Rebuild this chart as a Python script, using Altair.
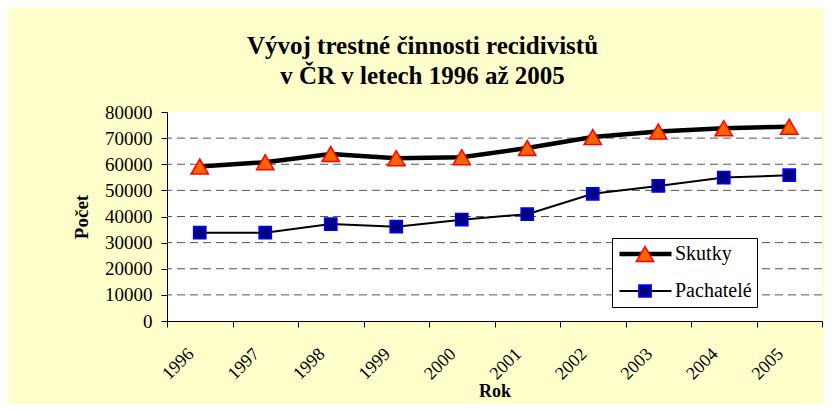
import altair as alt
import pandas as pd

years = ["1996", "1997", "1998", "1999", "2000", "2001", "2002", "2003", "2004", "2005"]
skutky = [59100, 60800, 63900, 62300, 62700, 66200, 70400, 72500, 73800, 74400]
pachatele = [33800, 33800, 37100, 36100, 38800, 40900, 48700, 51700, 54900, 55800]
series = ["Skutky", "Pachatelé"]
series_codes = ["A", "B"]
y_ticks = [0, 10000, 20000, 30000, 40000, 50000, 60000, 70000, 80000]
grid_values = [10000, 20000, 30000, 40000, 50000, 60000, 70000]

rows = []
for name, code, vals in zip(series, series_codes, [skutky, pachatele]):
    for yr, v in zip(years, vals):
        rows.append({"rok": yr, "pocet": v, "rada": name, "kod": code})
df = pd.DataFrame(rows)
grid_df = pd.DataFrame({"g": grid_values})

FONT = "Liberation Serif"

x_enc = alt.X(
    "rok:O",
    scale=alt.Scale(type="band", domain=years, paddingInner=0, paddingOuter=0),
    axis=alt.Axis(
        title="Rok", labelAngle=-45, labelAlign="right", labelBaseline="middle",
        tickBand="extent", tickSize=6, labelPadding=24, labelOffset=-9, labelFont=FONT,
        labelFontSize=18, labelColor="black", domainColor="black", tickColor="black",
        titleFont=FONT, titleFontSize=18, titleFontWeight="bold", titleColor="black",
        titlePadding=0, grid=False,
    ),
)
y_scale = alt.Scale(domain=[0, 80000], nice=False, zero=True)
y_axis = alt.Axis(
    title="Počet", values=y_ticks, format="d", tickSize=6, labelPadding=9,
    labelFont=FONT, labelFontSize=19, labelColor="black", domainColor="black",
    tickColor="black", titleFont=FONT, titleFontSize=19, titleFontWeight="bold",
    titleColor="black", titlePadding=13, grid=False,
)
y_enc = alt.Y("pocet:Q", scale=y_scale, axis=y_axis)

grid = alt.Chart(grid_df).mark_rule(color="#555555", strokeDash=[8, 5], strokeWidth=1).encode(
    y=alt.Y("g:Q", scale=y_scale, axis=y_axis)
)

LX, LY = 445, 126
legend_common = dict(
    orient="none", legendX=LX, legendY=LY, direction="vertical", padding=5,
    rowPadding=15, clipHeight=22, labelFont=FONT, labelFontSize=20, labelColor="black",
)

lines = alt.Chart(df).mark_line(color="black").encode(
    x=x_enc,
    y=y_enc,
    strokeWidth=alt.StrokeWidth(
        "rada:O",
        scale=alt.Scale(domain=series, range=[4.5, 2]),
        legend=alt.Legend(
            title=None, symbolType="stroke", symbolSize=2704, symbolStrokeColor="black",
            fillColor="white", strokeColor="black", labelOffset=1, **legend_common,
        ),
    ),
)

pt_legend = alt.Legend(
    title=None, labelOpacity=0, symbolOffset=18, labelOffset=1, symbolStrokeWidth=1.5,
    **legend_common,
)
points = alt.Chart(df).mark_point(filled=True, opacity=1, strokeWidth=1.5).encode(
    x=x_enc,
    y=y_enc,
    shape=alt.Shape("kod:N", scale=alt.Scale(domain=series_codes, range=["triangle-up", "square"]), legend=pt_legend),
    fill=alt.Fill("kod:N", scale=alt.Scale(domain=series_codes, range=["#FF6600", "#000080"]), legend=pt_legend),
    stroke=alt.Stroke("kod:N", scale=alt.Scale(domain=series_codes, range=["#FF0000", "#0000FF"]), legend=pt_legend),
    size=alt.Size("kod:N", scale=alt.Scale(domain=series_codes, range=[300, 150]), legend=pt_legend),
)

chart = alt.layer(grid, lines, points).properties(
    width=655,
    height=209,
    autosize=alt.AutoSizeParams(type="none"),
    padding={"left": 159, "top": 104, "right": 2, "bottom": 83},
    background="#FFFFCC",
    title=alt.TitleParams(
        text=["Vývoj trestné činnosti recidivistů", "v ČR v letech 1996 až 2005"],
        font=FONT, fontSize=25, fontWeight="bold", color="black", lineHeight=30,
        anchor="middle", dx=-72, offset=14,
    ),
).configure_view(fill="white", strokeWidth=0)

chart.save("out.html", embed_options={"renderer": "svg", "actions": False})
